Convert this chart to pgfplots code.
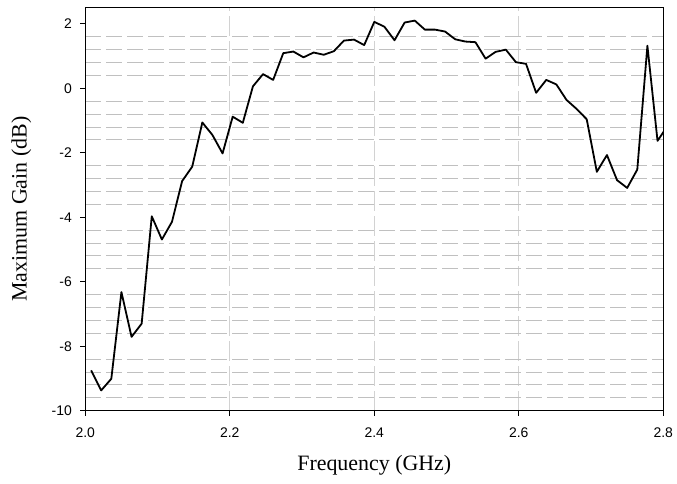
\documentclass[border=0pt]{standalone}
\usepackage{fontspec}
\setmainfont{Liberation Serif}
\newfontfamily\arialfont{Liberation Sans}
\usepackage{pgfplots}
\usepackage{pgfplotstable}
\pgfplotsset{compat=1.18}
\pgfplotstableread{
f v
2.008 -8.75
2.022 -9.37
2.036 -9.01
2.050 -6.32
2.064 -7.71
2.078 -7.30
2.092 -3.97
2.106 -4.69
2.120 -4.14
2.134 -2.88
2.148 -2.43
2.162 -1.06
2.176 -1.45
2.190 -2.02
2.204 -0.88
2.218 -1.07
2.232 0.06
2.246 0.44
2.260 0.26
2.274 1.09
2.288 1.14
2.302 0.96
2.316 1.11
2.330 1.04
2.344 1.15
2.358 1.48
2.372 1.51
2.386 1.34
2.400 2.06
2.414 1.91
2.428 1.49
2.442 2.04
2.456 2.10
2.470 1.82
2.484 1.82
2.498 1.76
2.512 1.52
2.526 1.45
2.540 1.43
2.554 0.92
2.568 1.13
2.582 1.20
2.596 0.81
2.610 0.76
2.624 -0.14
2.638 0.26
2.652 0.12
2.666 -0.36
2.680 -0.64
2.694 -0.96
2.708 -2.59
2.722 -2.07
2.736 -2.85
2.750 -3.09
2.764 -2.52
2.778 1.32
2.792 -1.63
2.806 -1.16
}\gaintable
\definecolor{hgrid}{RGB}{192,192,192}
\definecolor{vgrid}{RGB}{210,210,210}
\begin{document}
\begin{tikzpicture}
\begin{axis}[
  width=578bp, height=403bp, scale only axis,
  xmin=2.0, xmax=2.8, ymin=-10, ymax=2.5,
  xtick={2.0,2.2,2.4,2.6,2.8},
  ytick={-10,-8,-6,-4,-2,0,2},
  minor y tick num=4,
  yminorgrids, xmajorgrids,
  minor grid style={hgrid, line width=0.9bp, dash pattern=on 16bp off 5bp},
  major grid style={vgrid, line width=0.9bp, dash pattern=on 20bp off 5bp},
  minor tick length=0pt,
  major tick length=5bp,
  tick align=outside,
  tick style={black, line width=0.8bp},
  axis line style={black, line width=0.9bp},
  xtick pos=bottom, ytick pos=left,
  /pgf/number format/assume math mode=true,
  ticklabel style={font=\arialfont\fontsize{14}{16}\selectfont},
  xticklabel style={yshift=-9bp, /pgf/number format/.cd, fixed, fixed zerofill, precision=1},
  yticklabel style={xshift=-5bp, /pgf/number format/.cd, fixed, precision=0},
  xlabel={Frequency (GHz)},
  ylabel={Maximum Gain (dB)},
  every axis x label/.style={at={(axis description cs:0.5,0)}, anchor=center, yshift=-55bp, font=\fontsize{22}{26}\selectfont},
  every axis y label/.style={at={(axis description cs:-0.1107,0.5)}, anchor=center, rotate=90, font=\fontsize{22}{26}\selectfont},
  clip=true,
]
\addplot[black, line width=1.8bp, line join=round] table[x=f, y=v] {\gaintable};
\coordinate (SW) at (rel axis cs:0,0);
\coordinate (NE) at (rel axis cs:1,1);
\end{axis}
\pgfresetboundingbox
\path ([shift={(-85.3bp,-73.3bp)}]SW) rectangle ([shift={(13.7bp,7.7bp)}]NE);
\end{tikzpicture}
\end{document}
